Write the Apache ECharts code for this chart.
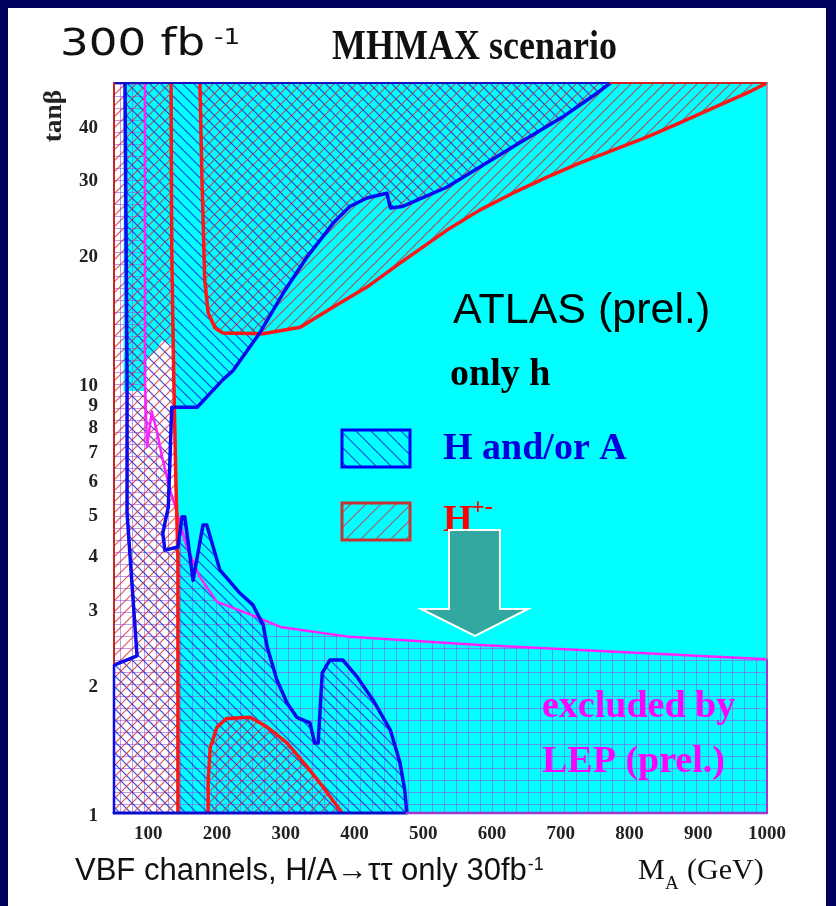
<!DOCTYPE html>
<html>
<head>
<meta charset="utf-8">
<script src="https://cdn.jsdelivr.net/npm/echarts@6/dist/echarts.min.js"></script>
<style>
  html, body { margin: 0; padding: 0; background: #00005e; }
  #frame { position: absolute; left: 8px; top: 8px; width: 818px; height: 898px; background: #ffffff; }
  #chart { position: absolute; left: 0; top: 0; width: 836px; height: 906px; }
</style>
</head>
<body>
<div id="frame"></div>
<div id="chart"></div>
<script>
// ---- axis ticks ----
const xTicks = [100, 200, 300, 400, 500, 600, 700, 800, 900, 1000];
const yTicks = [1, 2, 3, 4, 5, 6, 7, 8, 9, 10, 20, 30, 40];
const xRange = [50, 1000];   // M_A (GeV)
const yRange = [1, 50];      // tan(beta)

// ---- contours, points are [M_A (GeV), tanβ] ----
// H/A discovery region: left edge line, then the long contour from the bottom up to the top edge
const hALeftLine = [[66, 50], [69, 10.2], [69, 4.99], [83.5, 2.32], [50, 2.21]];
const hAContour = [
  [476, 1], [473, 1.13], [466, 1.31], [452, 1.56], [427, 1.83], [404, 2.07], [383, 2.27],
  [364, 2.27], [353, 2.12], [347, 1.455], [342, 1.455], [335, 1.62], [316, 1.67], [302, 1.80],
  [287, 2.04], [273, 2.43], [267, 2.74], [252, 3.05], [233, 3.25], [204, 3.68], [185, 4.68],
  [179.5, 4.68], [165, 3.48], [153, 4.89], [149, 4.89], [143, 4.16], [124, 4.09], [121, 4.48],
  [129, 5.15], [134, 8.8], [171, 8.8], [208.5, 10.2], [223, 10.7], [262, 13.1], [296, 16.2],
  [331, 19.7], [369, 23.6], [393, 25.8], [418, 27.0], [447, 27.7], [452, 25.6], [470, 25.8],
  [534, 28.6], [630, 35.5], [703, 41.7], [753, 47.4], [772, 50]
];
// charged Higgs regions
const hPlusLowMass = [[133, 50], [134, 20.4], [137, 10.2], [140, 5.96], [143, 3.88], [143, 1]];
const hPlusHighTanB = [
  [175, 50], [178, 29.7], [182, 17.4], [187, 14.6], [197, 13.45], [208.5, 13.1], [267, 13.05],
  [321, 13.5], [369, 15.05], [418, 16.75], [466, 19.05], [534, 22.7], [582, 25.3], [630, 27.7],
  [680, 30.2], [728, 32.6], [776, 34.9], [825, 37.4], [873, 40.4], [921, 43.7], [971, 47.4], [1000, 50]
];
const hPlusLowTanB = [
  [187, 1], [187, 1.19], [190, 1.42], [200, 1.585], [214, 1.66], [248, 1.67], [273, 1.585],
  [302, 1.455], [331, 1.28], [354, 1.15], [382, 1]
];
// LEP exclusion boundary
const lepBoundary = [
  [95, 50], [95, 10.2], [98, 7.1], [105, 8.6], [113, 7.66], [120, 6.74], [131.5, 5.65],
  [142, 4.99], [156, 4.16], [175, 3.54], [200, 3.10], [248, 2.90], [292, 2.71], [393, 2.57],
  [582, 2.46], [1000, 2.28]
];
// theoretically inaccessible corner (left unfilled)
const noFillRegion = [
  [50, 1], [50, 50], [64, 50], [64, 9.6], [96, 9.6], [98, 11.4], [112, 12.0], [120, 12.6],
  [134, 12.3], [137, 10.2], [140, 5.96], [143, 3.88], [143, 1]
];

// ---- fill patterns ----
function hatchTile(size, color, width, dir) {
  const c = document.createElement('canvas');
  c.width = c.height = size;
  const g = c.getContext('2d');
  g.strokeStyle = color; g.lineWidth = width;
  g.beginPath();
  if (dir === 'down') {           // "\" lines
    g.moveTo(-1, -1); g.lineTo(size + 1, size + 1);
    g.moveTo(-1, size - 1); g.lineTo(1, size + 1);
    g.moveTo(size - 1, -1); g.lineTo(size + 1, 1);
  } else {                        // "/" lines
    g.moveTo(-1, size + 1); g.lineTo(size + 1, -1);
    g.moveTo(-1, 1); g.lineTo(1, -1);
    g.moveTo(size - 1, size + 1); g.lineTo(size + 1, size - 1);
  }
  g.stroke();
  return c;
}
function gridTile(size, color) {
  const c = document.createElement('canvas');
  c.width = c.height = size;
  const g = c.getContext('2d');
  g.fillStyle = color;
  g.fillRect(0, 0, size, 1);
  g.fillRect(0, 0, 1, size);
  return c;
}
const pat = (canvas) => ({ image: canvas, repeat: 'repeat' });
const blueHatch = pat(hatchTile(11, 'rgba(20,40,215,0.85)', 1.2, 'down'));
const redHatch = pat(hatchTile(11, 'rgba(215,45,45,0.8)', 1.2, 'up'));
const lepGrid = pat(gridTile(12, 'rgba(150,85,225,0.6)'));
const blueHatchKey = pat(hatchTile(15, 'rgba(20,40,215,0.85)', 1.2, 'down'));
const redHatchKey = pat(hatchTile(15, 'rgba(200,60,60,0.8)', 1.2, 'up'));

const BLUE = '#0a0aee', RED = '#ff1515', MAGENTA = '#ff22ff';

function shape(points, style, z, closed, clip) {
  return {
    type: 'custom', coordinateSystem: 'cartesian2d', silent: true,
    clip: clip !== false, z: z, animation: false,
    data: [points[0]],
    renderItem: (params, api) => ({
      type: closed ? 'polygon' : 'polyline',
      shape: { points: points.map(p => api.coord(p)) },
      style: Object.assign({}, style)
    })
  };
}
const line = (pts, color, w, z, clip) =>
  shape(pts, { fill: 'none', stroke: color, lineWidth: w, lineJoin: 'round', lineCap: 'round' }, z, false, clip);

const X0 = xRange[0], X1 = xRange[1], Y0 = yRange[0], Y1 = yRange[1];

const series = [
  shape(noFillRegion, { fill: '#ffffff' }, 1, true),
  shape([[X0, Y0], [X0, Y1]].concat(lepBoundary, [[X1, Y0]]), { fill: lepGrid }, 2, true),
  shape(hALeftLine.concat([[X0, Y0]], hAContour), { fill: blueHatch }, 3, true),
  shape([[X0, Y0], [X0, Y1]].concat(hPlusLowMass), { fill: redHatch }, 4, true),
  shape(hPlusHighTanB.concat([[X1, Y1]]), { fill: redHatch }, 4, true),
  shape(hPlusLowTanB, { fill: redHatch }, 4, true),
  line(lepBoundary, MAGENTA, 2.5, 5),
  line(hPlusLowMass, RED, 3.5, 6),
  line(hPlusHighTanB, RED, 3.5, 6),
  line(hPlusLowTanB, RED, 3.5, 6),
  line(hALeftLine, BLUE, 3.5, 7),
  line(hAContour, BLUE, 3.5, 7),
  // frame
  line([[X0, Y1], [772, Y1]], '#1010c0', 2, 8, false),
  line([[772, Y1], [X1, Y1]], '#d02020', 2, 8, false),
  line([[X0, Y1], [X0, 2.21]], '#c02828', 2, 8, false),
  line([[X0, 2.21], [X0, Y0]], BLUE, 2.5, 8, false),
  line([[X0, Y0], [476, Y0]], '#0a0acc', 3, 8, false),
  line([[476, Y0], [X1, Y0]], '#9a3acc', 2.5, 8, false),
  line([[X1, Y0], [X1, 2.28]], '#9a3acc', 2, 8, false),
  line([[X1, 2.28], [X1, Y1]], '#8a8aaa', 1.5, 8, false)
];

// width helper for placing superscripts after a text run
const measure = (txt, font) => {
  const g = document.createElement('canvas').getContext('2d');
  g.font = font; return g.measureText(txt).width;
};
const txt = (x, y, text, font, fill, extra) => Object.assign({
  type: 'text', x: x, y: y, z: 100, silent: true,
  style: { text: text, font: font, fill: fill, align: 'left', verticalAlign: 'middle',
           textAlign: 'left', textVerticalAlign: 'middle' }
}, extra || {});

const SERIF = '"Liberation Serif", "Times New Roman", serif';
const SANS = '"Liberation Sans", Arial, sans-serif';
const footFont = '31px ' + SANS;
const footText = 'VBF channels, H/A\u2192\u03c4\u03c4 only 30fb';
const footW = measure(footText, footFont);

const graphic = [
  txt(60, 45, '300 fb', '37px "DejaVu Sans", sans-serif', '#111', { scaleX: 1.22 }),
  txt(214, 38, '-1', '22px "DejaVu Sans", sans-serif', '#111', { scaleX: 1.2 }),
  txt(332, 48, 'MHMAX scenario', 'bold 36px ' + SERIF, '#111', { scaleY: 1.2 }),
  {
    type: 'text', x: 55, y: 116, z: 100, rotation: Math.PI / 2, silent: true, scaleX: 1.1,
    style: { text: 'tan\u03b2', font: 'bold 25px ' + SERIF, fill: '#222', align: 'center', verticalAlign: 'middle',
             textAlign: 'center', textVerticalAlign: 'middle' }
  },
  txt(453, 311, 'ATLAS (prel.)', '43px ' + SANS, '#000'),
  txt(450, 375, 'only h', 'bold 38px ' + SERIF, '#000'),
  {
    type: 'rect', z: 100, silent: true, shape: { x: 342, y: 430, width: 68, height: 37 },
    style: { fill: blueHatchKey, stroke: '#0000ee', lineWidth: 3 }
  },
  txt(443, 449, 'H and/or A', 'bold 38px ' + SERIF, '#0000dd'),
  {
    type: 'rect', z: 100, silent: true, shape: { x: 342, y: 503, width: 68, height: 37 },
    style: { fill: redHatchKey, stroke: '#c83232', lineWidth: 3 }
  },
  txt(443, 521, 'H', 'bold 38px ' + SERIF, '#ff0000'),
  txt(471, 508, '+-', 'bold 24px ' + SERIF, '#ff0000'),
  {
    type: 'polygon', z: 101, silent: true,
    shape: { points: [[449, 530], [500, 530], [500, 609], [528, 609], [475, 636], [421, 609], [449, 609]] },
    style: { fill: '#33a8a0', stroke: '#ffffff', lineWidth: 2 }
  },
  txt(542, 707, 'excluded by', 'bold 38px ' + SERIF, '#ff00ff'),
  txt(542, 762, 'LEP (prel.)', 'bold 38px ' + SERIF, '#ff00ff'),
  txt(75, 871, footText, footFont, '#111'),
  txt(75 + footW + 1, 865, '-1', '18px ' + SANS, '#111'),
  txt(638, 871, 'M', '30px ' + SERIF, '#111'),
  txt(665, 884, 'A', '19px ' + SERIF, '#111'),
  txt(687, 871, '(GeV)', '30px ' + SERIF, '#111')
];

const tickFont = { fontFamily: SERIF, fontWeight: 'bold', fontSize: 19, color: '#222' };

const chart = echarts.init(document.getElementById('chart'), null, { renderer: 'canvas' });
chart.setOption({
  animation: false,
  grid: {
    left: 114, top: 83, width: 653, height: 730, containLabel: false, outerBoundsMode: 'none',
    show: true, backgroundColor: '#00ffff', borderWidth: 0
  },
  xAxis: {
    type: 'value', min: X0, max: X1,
    axisLine: { show: false }, axisTick: { show: false }, splitLine: { show: false },
    axisLabel: Object.assign({
      customValues: xTicks, margin: 12,
      formatter: v => String(Math.round(v))
    }, tickFont)
  },
  yAxis: {
    type: 'log', logBase: 10, min: Y0, max: Y1,
    axisLine: { show: false }, axisTick: { show: false }, splitLine: { show: false },
    axisLabel: Object.assign({
      customValues: yTicks, margin: 16,
      formatter: v => '{t|' + Math.round(v) + '}',
      rich: { t: Object.assign({ padding: [6, 0, 0, 0] }, tickFont) }
    }, tickFont)
  },
  series: series,
  graphic: graphic
});
</script>
</body>
</html>
